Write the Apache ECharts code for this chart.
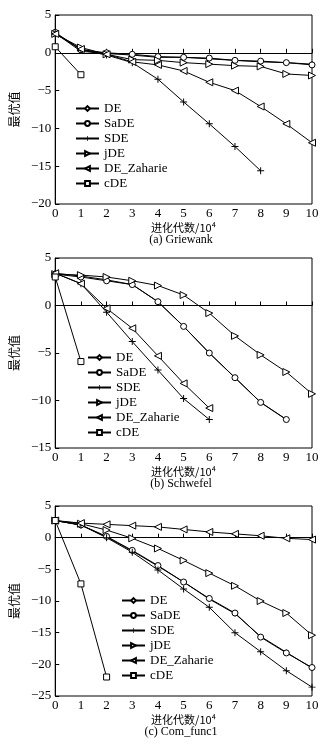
<!DOCTYPE html>
<html>
<head>
<meta charset="utf-8">
<script src="https://cdn.jsdelivr.net/npm/echarts@6/dist/echarts.min.js"></script>
<style>
  html, body { margin: 0; padding: 0; background: #fff; }
  #main { width: 323px; height: 748px; }
</style>
</head>
<body>
<div id="main"></div>
<script>
var names = ['DE', 'SaDE', 'SDE', 'jDE', 'DE_Zaharie', 'cDE'];

// (a) Griewank
var g_DE = [2.6, 0.2, -0.1, -0.3, -0.6, -0.6, -0.8, -1.0, -1.2, -1.3, -1.5];
var g_SaDE = [2.7, 0.4, 0.0, -0.2, -0.5, -0.6, -0.7, -1.0, -1.1, -1.3, -1.6];
var g_SDE = [2.6, 0.4, -0.3, -1.3, -3.5, -6.5, -9.4, -12.4, -15.6];
var g_jDE = [2.5, 0.7, -0.2, -0.9, -1.0, -1.3, -1.5, -1.7, -1.8, -2.8, -3.0];
var g_DEZ = [2.5, 0.5, -0.2, -1.2, -1.6, -2.4, -3.9, -5.0, -7.1, -9.4, -11.9];
var g_cDE = [0.8, -2.9];

// (b) Schwefel
var s_DE = [3.4, 3.1, 2.7, 2.2, 0.4, -2.2, -5.0, -7.6, -10.2, -12.0];
var s_SaDE = [3.3, 3.0, 2.6, 2.2, 0.4, -2.2, -5.0, -7.6, -10.2, -12.0];
var s_SDE = [3.4, 2.3, -0.7, -3.8, -6.8, -9.8, -12.0];
var s_jDE = [3.3, 3.2, 3.0, 2.6, 2.1, 1.1, -0.8, -3.2, -5.2, -7.0, -9.3];
var s_DEZ = [3.4, 2.3, -0.3, -2.4, -5.3, -8.2, -10.8];
var s_cDE = [3.0, -5.9];

// (c) Com_func1
var c_DE = [2.7, 2.0, 0.1, -2.1, -4.5, -7.0, -9.7, -12.0, -15.6, -18.1, -20.6];
var c_SaDE = [2.7, 2.0, 0.2, -2.0, -4.4, -7.0, -9.6, -11.9, -15.7, -18.2, -20.5];
var c_SDE = [2.7, 2.0, 0.0, -2.3, -5.1, -8.1, -11.0, -15.0, -18.0, -21.0, -23.6];
var c_jDE = [2.7, 2.2, 1.2, -0.1, -1.7, -3.6, -5.6, -7.6, -10.0, -11.9, -15.4];
var c_DEZ = [2.7, 2.3, 2.1, 1.9, 1.7, 1.3, 0.9, 0.6, 0.3, -0.1, -0.3];
var c_cDE = [2.7, -7.3, -22.0];

var captions = ['(a) Griewank', '(b) Schwefel', '(c) Com_func1'];
var yMins = [-20, -15, -25];
var xLabel = '进化代数/10⁴';
var yLabel = '最优值';

var panels = [
  [g_DE, g_SaDE, g_SDE, g_jDE, g_DEZ, g_cDE],
  [s_DE, s_SaDE, s_SDE, s_jDE, s_DEZ, s_cDE],
  [c_DE, c_SaDE, c_SDE, c_jDE, c_DEZ, c_cDE]
];

var symbols = [
  'diamond',
  'circle',
  'path://M4.3,0H5.7V4.3H10V5.7H5.7V10H4.3V5.7H0V4.3H4.3Z',
  'path://M0,0L10,5L0,10Z',
  'path://M10,0L0,5L10,10Z',
  'rect'
];
var symSizes = [5, 6, 7, 7, 7, 6];

var serif = 'Liberation Serif';
var cjk = 'Noto Sans CJK SC';

var tops = [15, 258, 506];
var heights = [189, 190, 190];
var legendPos = [[75, 102], [87, 351], [121, 594]];

var chart = echarts.init(document.getElementById('main'));

var grids = [], xAxes = [], yAxes = [], series = [], legends = [], titles = [];
for (var p = 0; p < 3; p++) {
  grids.push({
    left: 50, width: 262, top: tops[p], height: heights[p],
    show: true, borderColor: '#000', borderWidth: 1
  });
  xAxes.push({
    type: 'value', gridIndex: p, min: 0, max: 10, interval: 1,
    name: xLabel, nameLocation: 'middle', nameGap: 18,
    nameTextStyle: { fontFamily: cjk, fontSize: 11, color: '#000' },
    axisLine: { lineStyle: { color: '#000' } },
    axisTick: { inside: true, length: 4, lineStyle: { color: '#000' } },
    axisLabel: { color: '#000', fontFamily: serif, fontSize: 13, margin: 3 },
    splitLine: { show: false }
  });
  yAxes.push({
    type: 'value', gridIndex: p, min: yMins[p], max: 5, interval: 5,
    name: yLabel, nameLocation: 'middle', nameGap: 31, nameRotate: 90,
    nameTextStyle: { fontFamily: cjk, fontSize: 12, color: '#000' },
    axisLine: { show: true, lineStyle: { color: '#000' } },
    axisTick: { inside: true, length: 4, lineStyle: { color: '#000' } },
    axisLabel: {
      color: '#000', fontFamily: serif, fontSize: 13, margin: 4,
      formatter: function (v) { return String(v).replace('-', '−'); }
    },
    splitLine: { show: false }
  });
  for (var s = 0; s < names.length; s++) {
    var vals = panels[p][s];
    var pts = vals.map(function (v, i) { return [i, v]; });
    series.push({
      name: names[s], type: 'line', xAxisIndex: p, yAxisIndex: p,
      data: pts, symbol: symbols[s], symbolSize: symSizes[s],
      showAllSymbol: true,
      lineStyle: { color: '#000', width: 1 },
      itemStyle: { color: s === 2 ? '#000' : '#fff', borderColor: '#000', borderWidth: s === 2 ? 0 : 1 },
      emphasis: { disabled: true },
      animation: false
    });
  }
  legends.push({
    data: names, orient: 'vertical', left: legendPos[p][0], top: legendPos[p][1],
    itemWidth: 23, itemHeight: 6, itemGap: 2, padding: 0,
    textStyle: { fontFamily: serif, fontSize: 13, lineHeight: 13, color: '#000' },
    selectedMode: false
  });
  titles.push({
    text: captions[p], left: 181, textAlign: 'center', padding: 0,
    top: tops[p] + heights[p] + 30,
    textStyle: { fontFamily: serif, fontSize: 12, fontWeight: 'normal', color: '#000' }
  });
}

chart.setOption({
  animation: false,
  backgroundColor: '#fff',
  title: titles,
  grid: grids,
  xAxis: xAxes,
  yAxis: yAxes,
  legend: legends,
  series: series
});
</script>
</body>
</html>
